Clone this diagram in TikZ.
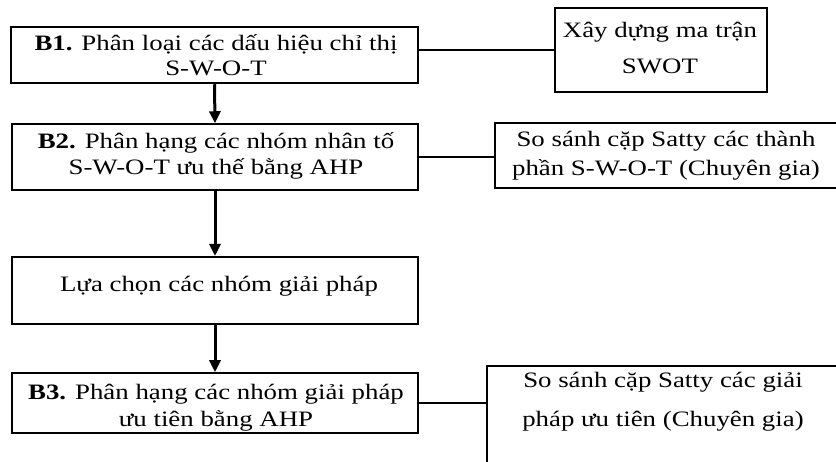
\documentclass[tikz,border=0pt]{standalone}
\usepackage{fontspec}
\setmainfont{Liberation Serif}[FakeStretch=1.22]
\usetikzlibrary{arrows.meta}
\begin{document}
\begin{tikzpicture}[x=1pt,y=-1pt,
		box/.style={draw,line width=1.5pt,inner sep=0pt},
		txt/.style={align=center,font=\fontsize{22}{27}\selectfont},
		flow/.style={-{Triangle[length=12pt,width=11pt]},line width=3pt},
		link/.style={line width=2pt}]
	\useasboundingbox (0,0) rectangle (836,462);
	\clip (0,0) rectangle (836,462);
	\node[box,line width=2.5pt,minimum width=407pt,minimum height=56pt] (b1) at (214.5,55) {};
	\node[box,line width=2pt,minimum width=212pt,minimum height=84pt] (swot) at (661,50) {};
	\node[box,minimum width=406pt,minimum height=66pt] (b2) at (215,157) {};
	\node[box,line width=1.2pt,minimum width=350pt,minimum height=65pt] (satty) at (670,155.5) {};
	\node[box,line width=2pt,minimum width=406pt,minimum height=67pt] (luachon) at (215,290.5) {};
	\node[box,minimum width=406pt,minimum height=60pt] (b3) at (215,403) {};
	\node[box,line width=1.2pt,minimum width=363pt,minimum height=134pt] (sattygp) at (668.5,433) {};
	\node[txt] (tb1) at (216,55.5) {\textbf{B1.} Phân loại các dấu hiệu chỉ thị\\[-2pt]S-W-O-T};
	\node[txt] (tswot) at (660,48) {Xây dựng ma trận\\[9pt]SWOT};
	\node[txt] (tb2) at (216,156) {\textbf{B2.} Phân hạng các nhóm nhân tố\\[-1pt]S-W-O-T ưu thế bằng AHP};
	\node[txt] (tsatty) at (666,155.5) {So sánh cặp Satty các thành\\[2pt]phần S-W-O-T (Chuyên gia)};
	\node[txt] (tluachon) at (219,286) {Lựa chọn các nhóm giải pháp};
	\node[txt] (tb3) at (216,407.5) {\textbf{B3.} Phân hạng các nhóm giải pháp\\ưu tiên bằng AHP};
	\node[txt] (tsattygp) at (663,402) {So sánh cặp Satty các giải\\[12pt]pháp ưu tiên (Chuyên gia)};
	\draw[link] (swot.west -| b1.east) -- (swot.west);
	\draw[link] (b2.east) -- (b2.east -| satty.west);
	\draw[link] (b3.east) -- (b3.east -| sattygp.west);
	\draw[flow] (b1.south) -- (b2.north);
	\draw[flow] (b2.south) -- (luachon.north);
	\draw[flow] (luachon.south) -- (b3.north);
\end{tikzpicture}
\end{document}
